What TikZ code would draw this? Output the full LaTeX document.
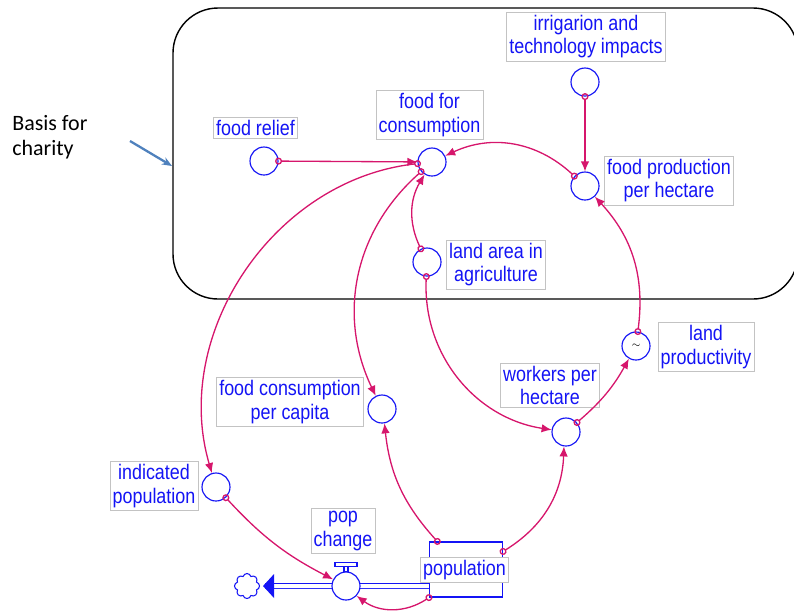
\documentclass[tikz,border=0pt]{standalone}
\usepackage{fontspec}
\setmainfont{Liberation Sans}
\newfontfamily\vensimfont[FakeStretch=0.85]{Liberation Sans}
\newfontfamily\notefont{Carlito}
\usetikzlibrary{arrows.meta,shapes.symbols}

\definecolor{vblue}{RGB}{20,20,245}
\definecolor{linkpink}{RGB}{214,22,108}
\definecolor{boxgray}{RGB}{195,195,195}
\definecolor{noteblue}{RGB}{79,129,189}

\tikzset{
  aux/.style={circle,draw=vblue,fill=white,line width=0.65pt,minimum size=0.56cm,inner sep=0pt},
  lbl/.style={draw=boxgray,fill=white,line width=0.4pt,text=vblue,align=center,
    font=\vensimfont\fontsize{12}{13.6}\selectfont,inner xsep=1.5pt,inner ysep=1.5pt},
  link/.style={draw=linkpink,line width=0.75pt,shorten <=-0.07cm,
    {Circle[open,length=0.14cm,width=0.14cm]}-{Latex[length=0.2cm,width=0.17cm]}},
  pipe/.style={draw=vblue,line width=0.55pt,double,double distance=0.08cm},
}

\begin{document}
\begin{tikzpicture}[x=0.02cm,y=-0.02cm]
\useasboundingbox (0,0) rectangle (794,610);
\clip (0,0) rectangle (794,610);

% Charity frame
\draw[line width=0.8pt,rounded corners=0.9cm] (173,8) rectangle (798,299);

% Note and its arrow
\node[font=\notefont\fontsize{12.5}{14.5}\selectfont,align=left,anchor=north west,inner sep=0pt] (charity) at (12,115) {Basis for\\charity};
\coordinate (notetail) at (130,141);
\coordinate (notehead) at (172,166);
\draw[noteblue,line width=1.3pt,-{Stealth[length=0.2cm,width=0.16cm]}] (notetail) -- (notehead);

% Auxiliaries and their labels
\node[aux] (relief) at (264,161) {};
\node[lbl] (relieflbl) at (255.5,128) {food relief};
\node[aux] (ffc) at (432,162) {};
\node[lbl] (ffclbl) at (429.5,115) {food for\\consumption};
\node[aux] (irr) at (585,82) {};
\node[lbl] (irrlbl) at (586,36.5) {irrigarion and\\technology impacts};
\node[aux] (fpph) at (585,186) {};
\node[lbl] (fpphlbl) at (669,180.5) {food production\\per hectare};
\node[aux] (land) at (427,262) {};
\node[lbl] (landlbl) at (496,264.5) {land area in\\agriculture};
\node[aux] (lprod) at (636,346) {\tiny$\sim$};
\node[lbl] (lprodlbl) at (706,347) {land\\productivity};
\node[aux] (wph) at (566,432) {};
\node[lbl] (wphlbl) at (550,385.5) {workers per\\hectare};
\node[aux] (fcpc) at (382,409) {};
\node[lbl] (fcpclbl) at (290,402) {food consumption\\per capita};
\node[aux] (indpop) at (216,487) {};
\node[lbl] (indpoplbl) at (154,486) {indicated\\population};

% Stock
\node[draw=vblue,line width=0.65pt,minimum width=1.46cm,minimum height=1.1cm,inner sep=0pt] (pop) at (466,569.5) {};
\node[lbl] (poplbl) at (464.5,570) {population};

% Sink cloud and flow pipe
\node[cloud,cloud puffs=8,draw=vblue,line width=0.6pt,minimum width=0.5cm,minimum height=0.5cm,inner sep=0pt] (sink) at (247,586) {};
\draw[pipe] ([yshift=-0.33cm]pop.west) -- ([xshift=0.1cm]sink.east);
\fill[vblue] ([xshift=0.06cm]sink.east) -- ++(11,-12) -- ++(0,24) -- cycle;

% Valve
\node[aux] (valve) at (346,586) {};
\node[lbl] (valvelbl) at (343,531) {pop\\change};
\draw[vblue,line width=0.6pt] ([xshift=-0.04cm]valve.north) rectangle ++(4,-5);
\draw[vblue,line width=0.6pt] ([shift={(-11,-5)}]valve.north) rectangle ++(22,-4);

% Connectors
\draw[link] (relief) -- (ffc);
\draw[link] (irr) -- (fpph);
\draw[link] (fpph) to[bend right=34] (ffc);
\draw[link] (lprod) to[bend right=25] (fpph);
\draw[link] (land) to[bend left=28] (ffc);
\draw[link] (land) to[bend right=42] (wph);
\draw[link] (wph) to[bend right=10] (lprod);
\draw[link] (pop) to[bend right=28] (wph);
\draw[link] (pop) to[bend left=18] (fcpc);
\draw[link] (ffc) to[bend right=37] (fcpc);
\draw[link] (ffc) to[bend right=50] (indpop);
\draw[link] (indpop) to[bend right=10] (valve);
\draw[link] (pop.south west) to[bend left=35] (valve);
\end{tikzpicture}
\end{document}
